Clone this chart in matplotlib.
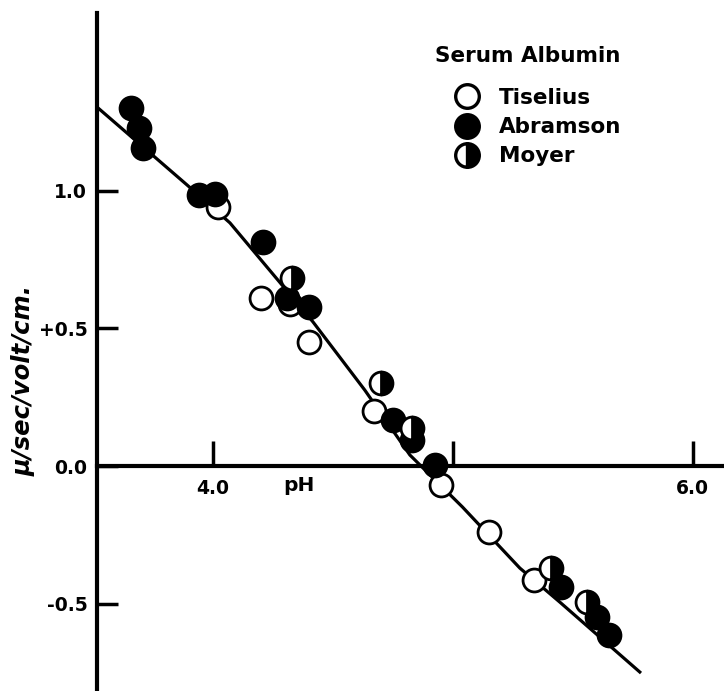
import matplotlib.pyplot as plt
from matplotlib.lines import Line2D

# data (pH, mobility in micron/sec/volt/cm)
tiselius_ph = [4.02, 4.20, 4.32, 4.40, 4.67, 4.95, 5.15, 5.34]
tiselius_mu = [0.94, 0.61, 0.59, 0.45, 0.20, -0.07, -0.24, -0.415]

abramson_ph = [3.66, 3.69, 3.71, 3.94, 4.01, 4.21, 4.31, 4.40, 4.75, 4.83, 4.925, 5.45, 5.60, 5.65]
abramson_mu = [1.30, 1.23, 1.155, 0.985, 0.99, 0.815, 0.61, 0.578, 0.167, 0.095, 0.004, -0.44, -0.55, -0.615]

moyer_ph = [4.33, 4.70, 4.83, 5.41, 5.56]
moyer_mu = [0.684, 0.30, 0.138, -0.37, -0.495]

curve_ph = [3.517, 3.892, 4.071, 4.417, 4.633, 4.821, 5.04, 5.279, 5.446, 5.779]
curve_mu = [1.305, 1.022, 0.884, 0.524, 0.276, 0.040, -0.149, -0.371, -0.495, -0.749]

xticks = [4.0, 5.0, 6.0]
xticklabels = ["4.0", "", "6.0"]
yticks = [-0.5, 0.0, 0.5, 1.0]
yticklabels = ["-0.5", "0.0", "+0.5", "1.0"]

plt.rcParams['font.family'] = ['DejaVu Sans']
plt.rcParams['font.weight'] = 'bold'

fig = plt.figure(figsize=(7.24, 6.91), dpi=100)
ax = fig.add_axes([97 / 724, 0, 627 / 724, 678 / 691])

ax.plot(curve_ph, curve_mu, color='black', lw=2.3, zorder=2)

ms = 16.5
ax.plot(tiselius_ph, tiselius_mu, 'o', ms=ms, mfc='white', mec='black', mew=2, ls='none', zorder=3)
ax.plot(abramson_ph, abramson_mu, 'o', ms=ms, mfc='black', mec='black', mew=2, ls='none', zorder=4)
ax.plot(moyer_ph, moyer_mu, 'o', ms=ms, fillstyle='right', mfc='black', mfcalt='white',
        mec='black', mew=2, ls='none', zorder=5)

ax.set_xlim(3.517, 6.13)
ax.set_ylim(-0.818, 1.647)

ax.spines['top'].set_visible(False)
ax.spines['right'].set_visible(False)
ax.spines['bottom'].set_position(('data', 0))
ax.spines['left'].set_linewidth(3)
ax.spines['bottom'].set_linewidth(3)

ax.set_xticks(xticks)
ax.set_xticklabels(xticklabels)
ax.set_yticks(yticks)
ax.set_yticklabels(yticklabels)
ax.tick_params(axis='x', direction='in', length=18, width=2.5, pad=9, labelsize=13.5)
ax.tick_params(axis='y', direction='in', length=15, width=2.5, pad=7, labelsize=13.5)

ax.text(4.36, -0.035, "pH", ha='center', va='top', fontsize=14.5, fontweight='bold')
fig.text(24 / 724, 1 - 380 / 691, "\u03bc/sec/volt/cm.", rotation=90, ha='center', va='center',
         fontsize=17.5, fontweight='bold', style='italic')

# legend
fig.text(435 / 724, 1 - 56 / 691, "Serum Albumin", ha='left', va='center', fontsize=15.5,
         fontweight='bold')
handles = [
    Line2D([], [], marker='o', ls='none', ms=17, mfc='white', mec='black', mew=2.4),
    Line2D([], [], marker='o', ls='none', ms=17, mfc='black', mec='black', mew=2.4),
    Line2D([], [], marker='o', ls='none', ms=17, fillstyle='right', mfc='black', mfcalt='white',
           mec='black', mew=2.4),
]
labels = ["Tiselius", "Abramson", "Moyer"]
leg = fig.legend(handles, labels, loc='upper left', bbox_to_anchor=(454 / 724, 1 - 88 / 691),
                 frameon=False, fontsize=15.5, labelspacing=0.42, handletextpad=0.9,
                 handlelength=1.2, borderpad=0, borderaxespad=0)

fig.savefig("out.png", dpi=100)
